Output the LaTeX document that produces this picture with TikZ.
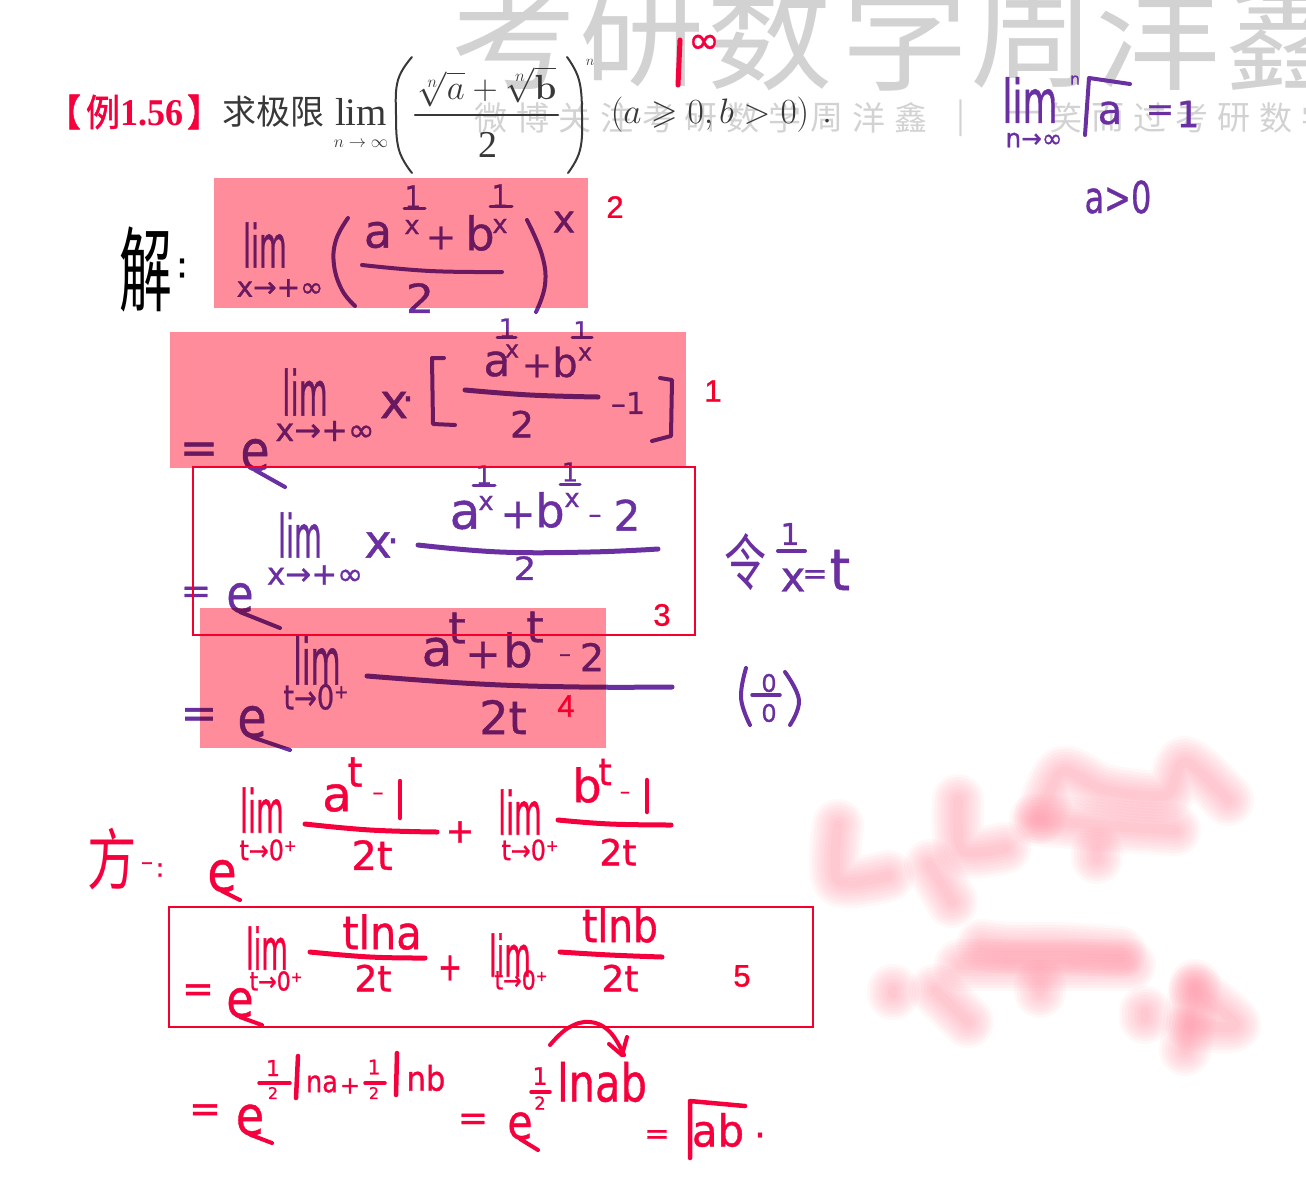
\documentclass[tikz,border=0pt]{standalone}
\usepackage{amsmath,amssymb}
\usepackage[no-math]{fontspec}
\setmainfont[FakeBold=0.9]{DejaVu Sans}
\newfontfamily\cjk{Noto Sans CJK SC}
\newfontfamily\cjkb[FakeBold=1.5]{Noto Sans CJK SC}
\newfontfamily\pserif{Liberation Serif}
\newfontfamily\lab[FakeBold=1]{Liberation Sans}
\definecolor{hwp}{HTML}{6A2FA0}
\definecolor{hwr}{HTML}{F5003C}
\definecolor{pinkr}{HTML}{FF8C9A}
\definecolor{outl}{HTML}{F5002D}
\definecolor{wmg}{HTML}{D2D2D2}
\definecolor{prt}{HTML}{383838}
\definecolor{blurp}{HTML}{FF8095}
\newcount\tcnt
\newcommand\TX[6]{\global\advance\tcnt by 1
  \node[inner sep=0pt,anchor=center] (t\the\tcnt) at (#1,#2) {\fontsize{#3}{#3}\selectfont\scalebox{#4}[#5]{#6}};}
\newcommand\SK[2][4]{\draw[line width=#1pt,line cap=round,line join=round] plot[smooth,tension=.7] coordinates {#2};}
\newcommand\LN[2][4]{\draw[line width=#1pt,line cap=round,line join=round] #2;}
\newcommand\BL[1]{\foreach \w in {52,46,40,34,28,22,16,10}{\draw[blurp,opacity=.065,line width=\w pt,line cap=round,line join=round] plot[smooth] coordinates {#1};}}
% e with a long tail
\newcommand\EE[5]{\TX{#1}{#2}{#3}{.85}{1}{e}\SK{(#1,#2+#3*.27) (#4,#5)}}
% lim with long l
\newcommand\LIM[4]{\TX{#1}{#2}{#3}{.62}{1.3}{lim}}
\begin{document}
\begin{tikzpicture}[x=1pt,y=-1pt]
\useasboundingbox (0,0) rectangle (1306,1200);
\clip (0,0) rectangle (1306,1200);
% blurred strokes
\BL{(838,825) (838,880) (888,876)}
\BL{(930,865) (952,902)}
\BL{(958,800) (962,850) (1005,848)}
\BL{(1040,818) (1062,772) (1105,790) (1165,795) (1185,762) (1228,800)}
\BL{(1035,820) (1100,825) (1175,830)}
\BL{(1097,852) (1097,858)}
\BL{(982,945) (1010,948) (1060,948) (1120,952)}
\BL{(960,965) (1040,965) (1130,965)}
\BL{(1040,985) (1040,992)}
\BL{(893,990) (893,994)}
\BL{(935,990) (968,1022)}
\BL{(1145,1012) (1145,1018)}
\BL{(1195,985) (1185,1050)}
\BL{(1195,990) (1235,1025) (1192,1025)}
% large watermark
\begin{scope}[color=wmg]
\foreach \c/\x in {考/514,研/642,数/770,学/905,周/1033,洋/1158,鑫/1288}{
  \TX{\x}{33}{125}{1}{1}{\cjk\c}}
\foreach \c/\x in {微/491,博/533,关/575,注/617,考/659,研/701,数/743,学/785,周/827,洋/869,鑫/911,|/961,一/1024,笑/1066,而/1108,过/1150,考/1192,研/1234,数/1276,学/1318}{
  \TX{\x}{118}{33}{1}{1}{\cjk\c}}
\end{scope}
% printed problem
\begin{scope}[color=hwr]
\TX{64}{112}{34}{1}{1.1}{\cjkb 【}
\TX{103}{112}{34}{1}{1.1}{\cjkb 例}
\TX{152}{113}{36}{1}{1.05}{\pserif\bfseries 1.56}
\TX{204}{112}{34}{1}{1.1}{\cjkb 】}
\end{scope}
\begin{scope}[color=prt]
\TX{273}{112}{34}{1}{1}{\cjk 求极限}
\TX{361}{112}{39}{1}{1}{\pserif lim}
\TX{361}{144}{16}{1}{1}{$n\to\infty$}
\TX{487}{87}{24}{1.4}{1.4}{$\sqrt[n]{a}+\sqrt[n]{\mathbf{b}}$}
\TX{488}{145}{38}{1}{1}{\pserif 2}
\TX{590}{62}{15}{1}{1}{$n$}
\TX{710}{115}{24}{1.42}{1.42}{$(a\geqslant 0,b>0)$}
\TX{827}{121}{30}{1}{1}{\pserif .}
\LN[2.5]{(415,115) -- (558,115)}
\SK[2]{(412,57) (398,80) (396,115) (399,150) (412,173)}
\SK[2]{(567,57) (579,80) (582,115) (580,150) (568,173)}
\end{scope}
% black
\TX{146}{269}{66}{.8}{1.4}{\cjk 解}
\TX{182}{268}{36}{1}{1}{:}
% purple handwriting
\begin{scope}[color=hwp]
% top right
\TX{1030}{100}{48}{.75}{1.25}{lim}
\TX{1034}{140}{26}{.95}{1}{n→∞}
\TX{1075}{80}{16}{1}{1}{n}
\LN[4]{(1085,135) -- (1089,78) -- (1130,84)}
\TX{1110}{113}{40}{1}{1}{a}
\TX{1160}{113}{34}{1}{1}{=}
\TX{1188}{114}{36}{1}{1}{1}
\TX{1118}{197}{40}{.8}{1.1}{a>0}
% line 2
\LIM{265}{245}{46}{}
\TX{280}{288}{28}{1}{1}{x→+∞}
\SK{(348,218) (336,240) (334,265) (342,290) (355,306)}
\TX{378}{235}{46}{1}{1}{a}
\TX{413}{197}{26}{1}{1.2}{1}
\LN[3]{(404,208) -- (425,208)}
\TX{412}{227}{26}{1}{1}{x}
\TX{441}{238}{36}{1}{1}{+}
\TX{480}{233}{46}{1}{1}{b}
\TX{500}{196}{26}{1}{1.2}{1}
\LN[3]{(490,206) -- (512,206)}
\TX{500}{226}{26}{1}{1}{x}
\SK{(362,265) (430,271) (502,272)}
\TX{420}{298}{40}{1.1}{1}{2}
\SK{(527,220) (542,255) (545,285) (536,312)}
\TX{564}{222}{38}{1}{1}{x}
% line 1
\TX{199}{453}{46}{1}{1}{=}
\EE{255}{455}{56}{285}{487}
\LIM{305}{392}{48}{}
\TX{325}{431}{32}{1}{1}{x→+∞}
\TX{394}{405}{48}{1}{1}{x}
\TX{408}{404}{36}{1}{1}{·}
\LN[4]{(444,358) -- (432,358) -- (433,424) -- (455,425)}
\TX{497}{364}{44}{1}{1}{a}
\TX{507}{328}{26}{1}{1}{1}
\LN[3]{(497,337) -- (516,337)}
\TX{512}{351}{24}{1}{1}{x}
\TX{537}{366}{36}{1}{1}{+}
\TX{565}{362}{40}{1}{1}{b}
\TX{581}{330}{24}{1}{1}{1}
\LN[3]{(572,337) -- (592,337)}
\TX{585}{354}{24}{1}{1}{x}
\SK[5]{(465,390) (530,395) (598,397)}
\TX{522}{424}{36}{1.05}{1}{2}
\TX{628}{403}{30}{1}{1}{–1}
\LN[4]{(660,378) -- (672,380) -- (671,436) -- (652,441)}
% line 3
\TX{196}{595}{36}{1}{1}{=}
\EE{240}{598}{52}{280}{628}
\LIM{300}{535}{46}{}
\TX{315}{575}{31}{1}{1}{x→+∞}
\TX{378}{545}{46}{1}{1}{x}
\TX{393}{546}{36}{1}{1}{·}
\TX{465}{515}{50}{1}{1}{a}
\TX{484}{475}{26}{1}{1}{1}
\LN[3]{(473,485) -- (495,485)}
\TX{486}{503}{26}{1}{1}{x}
\TX{518}{515}{42}{1}{1}{+}
\TX{550}{510}{46}{1}{1}{b}
\TX{570}{472}{26}{1}{1}{1}
\LN[3]{(560,484) -- (580,484)}
\TX{572}{500}{26}{1}{1}{x}
\TX{595}{519}{26}{1}{1}{–}
\TX{627}{515}{42}{1}{1}{2}
\SK[5]{(418,545) (500,552) (590,552) (658,549)}
\TX{525}{568}{32}{1.1}{1}{2}
\TX{745}{562}{56}{.75}{1.1}{\cjk 令}
\TX{790}{534}{30}{1}{1}{1}
\LN[4]{(778,551) -- (805,551)}
\TX{793}{580}{42}{1}{1}{x}
\TX{815}{577}{30}{1}{1}{=}
\TX{840}{570}{52}{1}{1.1}{t}
% line 4
\TX{199}{718}{44}{1}{1}{=}
\EE{252}{722}{56}{290}{750}
\LIM{317}{660}{50}{}
\TX{316}{697}{34}{.8}{1}{t→0⁺}
\TX{437}{652}{50}{1}{1}{a}
\TX{457}{628}{44}{1}{1}{t}
\TX{483}{655}{42}{1}{1}{+}
\TX{518}{650}{46}{1}{1}{b}
\TX{535}{627}{44}{1}{1}{t}
\TX{565}{658}{24}{1}{1}{–}
\TX{592}{657}{38}{1}{1}{2}
\SK[5]{(367,676) (480,684) (580,687) (672,687)}
\TX{503}{717}{46}{1}{1}{2t}
\SK[4]{(746,668) (741,698) (750,725)}
\TX{769}{683}{24}{1}{1}{0}
\LN[3.5]{(752,695) -- (780,695)}
\TX{769}{713}{24}{1}{1}{0}
\SK[4]{(785,672) (799,700) (790,725)}
\end{scope}
% red handwriting
\begin{scope}[color=hwr]
\LN[5]{(680,40) -- (678,85)}
\TX{704}{44}{38}{1}{1}{∞}
% method line
\TX{112}{859}{58}{.85}{1.15}{\cjk 方}
\TX{147}{866}{24}{1}{1}{–}
\TX{160}{870}{26}{1}{1}{:}
\EE{222}{876}{56}{240}{900}
\LIM{262}{810}{46}{}
\TX{268}{850}{28}{.85}{1}{t→0⁺}
\TX{337}{798}{48}{1}{1}{a}
\TX{355}{772}{38}{1}{1.1}{t}
\TX{378}{796}{22}{1}{1}{–}
\LN[4.5]{(400,781) -- (400,818)}
\SK[5]{(305,824) (370,830) (437,832)}
\TX{372}{855}{40}{1}{1}{2t}
\TX{460}{832}{34}{1}{1}{+}
\LIM{520}{812}{46}{}
\TX{530}{850}{28}{.85}{1}{t→0⁺}
\TX{587}{785}{46}{1}{1}{b}
\TX{605}{772}{34}{1}{1.1}{t}
\TX{625}{795}{20}{1}{1}{–}
\LN[4.5]{(647,780) -- (647,812)}
\SK[5]{(558,820) (610,824) (671,825)}
\TX{618}{852}{36}{1}{1}{2t}
% boxed line
\TX{198}{993}{38}{1}{1}{=}
\EE{240}{1003}{52}{262}{1025}
\LIM{267}{948}{44}{}
\TX{276}{981}{26}{.85}{1}{t→0⁺}
\TX{382}{932}{46}{.9}{1}{tlna}
\SK[5]{(310,952) (370,957) (425,958)}
\TX{373}{978}{36}{1}{1}{2t}
\TX{450}{968}{36}{.8}{1.1}{+}
\LIM{510}{955}{44}{}
\TX{521}{980}{26}{.85}{1}{t→0⁺}
\TX{620}{925}{46}{.85}{1}{tlnb}
\SK[5]{(560,952) (610,955) (662,957)}
\TX{620}{978}{36}{1}{1}{2t}
% last line
\TX{205}{1113}{38}{1}{1}{=}
\EE{250}{1120}{54}{272}{1143}
\TX{273}{1068}{22}{1}{1}{1}
\LN[3.5]{(259,1083) -- (290,1083)}
\TX{273}{1093}{16}{1}{1}{2}
\LN[4.5]{(298,1056) -- (296,1098)}
\TX{322}{1084}{30}{.85}{1}{na}
\TX{350}{1086}{24}{1}{1}{+}
\TX{374}{1067}{20}{1}{1}{1}
\LN[3.5]{(365,1083) -- (385,1083)}
\TX{374}{1093}{16}{1}{1}{2}
\LN[4.5]{(397,1053) -- (396,1095)}
\TX{426}{1078}{34}{.9}{1}{nb}
\TX{473}{1122}{36}{1}{1}{=}
\EE{520}{1126}{48}{538}{1150}
\TX{540}{1076}{24}{1}{1}{1}
\LN[3.5]{(531,1092) -- (550,1092)}
\TX{540}{1103}{18}{1}{1}{2}
\TX{602}{1082}{52}{.8}{1}{lnab}
\SK[4]{(550,1045) (568,1028) (590,1022) (610,1032) (624,1055)}
\SK[4]{(609,1044) (622,1055)}
\SK[4]{(627,1037) (622,1055)}
\TX{657}{1137}{30}{1}{1}{=}
\LN[4.5]{(690,1158) -- (690,1101) -- (745,1106)}
\TX{718}{1130}{44}{.95}{1}{ab}
\TX{760}{1135}{36}{1}{1}{.}
\end{scope}
% highlight rectangles
\begin{scope}[blend mode=multiply]
\fill[pinkr] (214,178) rectangle (588,308);
\fill[pinkr] (170,332) rectangle (686,468);
\fill[pinkr] (200,608) rectangle (606,748);
\end{scope}
\draw[outl,line width=2pt] (193,467) rectangle (695,635);
\draw[outl,line width=2pt] (169,907) rectangle (813,1027);
\begin{scope}[color=outl]
\TX{615}{207}{31}{1}{1}{\lab 2}
\TX{713}{391}{31}{1}{1}{\lab 1}
\TX{662}{615}{31}{1}{1}{\lab 3}
\TX{566}{706}{31}{1}{1}{\lab 4}
\TX{742}{976}{31}{1}{1}{\lab 5}
\end{scope}
\end{tikzpicture}
\end{document}
